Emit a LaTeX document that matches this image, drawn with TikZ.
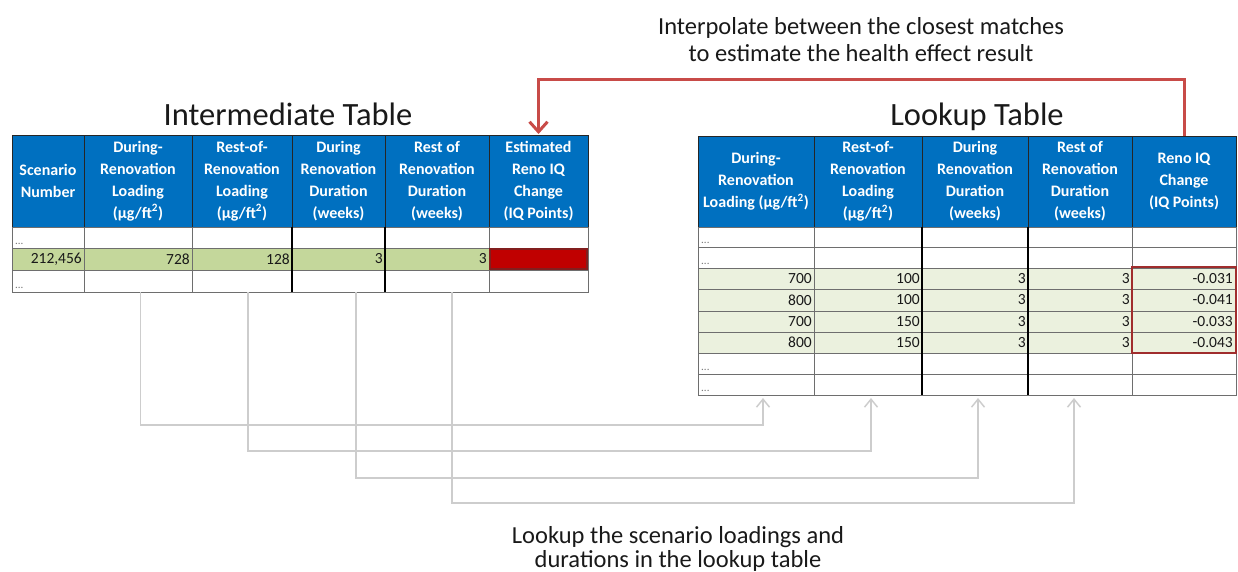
\documentclass[tikz,border=0pt]{standalone}
\usepackage{fontspec}
\setmainfont{Carlito}
\usetikzlibrary{arrows.meta}

\definecolor{hdrblue}{RGB}{0,112,192}
\definecolor{rowgreen}{RGB}{196,215,155}
\definecolor{palegreen}{RGB}{235,241,222}
\definecolor{hitred}{RGB}{192,0,0}
\definecolor{hitedge}{RGB}{130,30,30}
\definecolor{boxred}{RGB}{160,45,45}
\definecolor{linkred}{RGB}{200,75,72}
\definecolor{linkgray}{RGB}{205,205,205}
\definecolor{gridgray}{RGB}{110,110,110}
\definecolor{dotgray}{RGB}{120,120,120}

% a table cell: name, x0, y0, x1, y1, style, text
\newcommand{\tcell}[7]{%
  \pgfmathsetmacro{\cw}{#4-#2}\pgfmathsetmacro{\ch}{#5-#3}%
  \node[#6, minimum width=\cw pt, minimum height=\ch pt, anchor=north west] (#1) at (#2,#3) {#7};}

\tikzset{
  cellbase/.style={inner sep=0pt, outer sep=0pt},
  hdr/.style={cellbase, fill=hdrblue, draw=black!85, line width=0.6pt, text=white,
    align=center, font=\bfseries\fontsize{16}{22}\selectfont},
  blank/.style={cellbase, fill=white, draw=gridgray, line width=0.9pt},
  greenrow/.style={cellbase, fill=rowgreen, draw=gridgray, line width=0.9pt},
  paleroww/.style={cellbase, fill=palegreen, draw=gridgray, line width=0.9pt},
  hitcell/.style={cellbase, fill=hitred, draw=hitedge, line width=1.5pt},
  heavyrule/.style={draw=black, line width=1.6pt},
  num/.style={inner sep=0pt, font=\fontsize{15.5}{18}\selectfont, text=black!90},
  dots/.style={inner sep=0pt, font=\fontsize{11}{11}\selectfont, text=dotgray},
  title/.style={inner sep=0pt, font=\fontsize{32.5}{36}\selectfont, text=black!90},
  note/.style={inner sep=0pt, font=\fontsize{24.5}{28}\selectfont, text=black!90},
  hitbox/.style={draw=boxred, line width=2.4pt},
  conn/.style={draw=linkgray, line width=1.5pt, line join=miter,
    -{Straight Barb[length=8pt,width=13pt]}, shorten >=3pt},
  interp/.style={draw=linkred, line width=3pt, line join=miter,
    -{Straight Barb[length=10pt,width=18pt]}, shorten >=1pt},
}

\begin{document}
\begin{tikzpicture}[x=1pt, y=-1pt]
\useasboundingbox (0,0) rectangle (1238,572);

% ---------------- Intermediate table ----------------
\node[title, anchor=base] (ltitle) at (288,126) {Intermediate Table};

\foreach \c/\xa/\xb/\t in {
  1/12/84/{Scenario\\Number},
  2/84/192/{During-\\Renovation\\Loading\\(µg/ft\textsuperscript{2})},
  3/192/292/{Rest-of-\\Renovation\\Loading\\(µg/ft\textsuperscript{2})},
  4/292/385/{During\\Renovation\\Duration\\(weeks)},
  5/385/489/{Rest of\\Renovation\\Duration\\(weeks)},
  6/489/588/{Estimated\\Reno IQ\\Change\\(IQ Points)}}
  {\tcell{Lh\c}{\xa}{135}{\xb}{227}{hdr}{\t}}

\foreach \r/\ya/\yb/\s in {1/227/248/blank, 2/248/270/greenrow, 3/270/292/blank}
  \foreach \c/\xa/\xb in {1/12/84, 2/84/192, 3/192/292, 4/292/385, 5/385/489, 6/489/588}
    {\tcell{Lr\r-\c}{\xa}{\ya}{\xb}{\yb}{\s}{}}

\tcell{hit}{490}{249}{587}{269}{hitcell}{}

\draw[heavyrule] (Lr1-4.north west) -- (Lr3-4.south west);
\draw[heavyrule] (Lr1-5.north west) -- (Lr3-5.south west);

\foreach \c/\v in {1/{212,456}, 2/728, 3/128, 4/3, 5/3}
  {\node[num, anchor=east] (Lv\c) at ([xshift=-2pt]Lr2-\c.east) {\v};}

\foreach \n in {Lr1-1, Lr3-1}
  {\node[dots, anchor=base west] (\n-dots) at ([xshift=3pt,yshift=4pt]\n.south west) {...};}

% ---------------- Lookup table ----------------
\node[title, anchor=base] (rtitle) at (977,126) {Lookup Table};

\foreach \c/\xa/\xb/\t in {
  1/698/814/{During-\\Renovation\\Loading (µg/ft\textsuperscript{2})},
  2/814/922/{Rest-of-\\Renovation\\Loading\\(µg/ft\textsuperscript{2})},
  3/922/1028/{During\\Renovation\\Duration\\(weeks)},
  4/1028/1132/{Rest of\\Renovation\\Duration\\(weeks)},
  5/1132/1236/{Reno IQ\\Change\\(IQ Points)}}
  {\tcell{Rh\c}{\xa}{136}{\xb}{227}{hdr}{\t}}

\foreach \r/\ya/\yb/\s in {1/227/247/blank, 2/247/268/blank, 3/268/289/paleroww,
    4/289/311/paleroww, 5/311/332/paleroww, 6/332/353/paleroww, 7/353/374/blank, 8/374/395/blank}
  \foreach \c/\xa/\xb in {1/698/814, 2/814/922, 3/922/1028, 4/1028/1132, 5/1132/1236}
    {\tcell{Rr\r-\c}{\xa}{\ya}{\xb}{\yb}{\s}{}}

\draw[heavyrule] (Rr1-3.north west) -- (Rr8-3.south west);
\draw[heavyrule] (Rr1-4.north west) -- (Rr8-4.south west);

\foreach \r/\a/\b/\e in {3/700/100/{-0.031}, 4/800/100/{-0.041}, 5/700/150/{-0.033}, 6/800/150/{-0.043}}
  {\node[num, anchor=east] (Rv\r-1) at ([xshift=-2pt]Rr\r-1.east) {\a};
   \node[num, anchor=east] (Rv\r-2) at ([xshift=-2pt]Rr\r-2.east) {\b};
   \node[num, anchor=east] (Rv\r-3) at ([xshift=-2pt]Rr\r-3.east) {3};
   \node[num, anchor=east] (Rv\r-4) at ([xshift=-2pt]Rr\r-4.east) {3};
   \node[num, anchor=east] (Rv\r-5) at ([xshift=-3pt]Rr\r-5.east) {\e};}

\foreach \n in {Rr1-1, Rr2-1, Rr7-1, Rr8-1}
  {\node[dots, anchor=base west] (\n-dots) at ([xshift=3pt,yshift=4pt]\n.south west) {...};}

\draw[hitbox] ([yshift=1pt]Rr3-5.north west) rectangle (Rr6-5.south east);

% ---------------- interpolation back to the intermediate table ----------------
\draw[interp] (Rh5.north) -- ++(0,-56) -| (Lh6.north);
\node[note, anchor=base] (top1) at (861,35) {Interpolate between the closest matches};
\node[note, anchor=base] (top2) at (861,62) {to estimate the health effect result};

% ---------------- lookups of the scenario values ----------------
\draw[conn] ([xshift=2.7pt]Lr3-2.south) -- ++(0,133) -| ([xshift=7pt]Rr8-1.south);
\draw[conn] ([xshift=6pt]Lr3-3.south) -- ++(0,159) -| ([xshift=3pt]Rr8-2.south);
\draw[conn] ([xshift=17.5pt]Lr3-4.south) -- ++(0,186) -| ([xshift=3pt]Rr8-3.south);
\draw[conn] ([xshift=15pt]Lr3-5.south) -- ++(0,211) -| ([xshift=-6pt]Rr8-4.south);

\node[note, anchor=base] (bot1) at (678,543) {Lookup the scenario loadings and};
\node[note, anchor=base] (bot2) at (678,567) {durations in the lookup table};
\end{tikzpicture}
\end{document}
